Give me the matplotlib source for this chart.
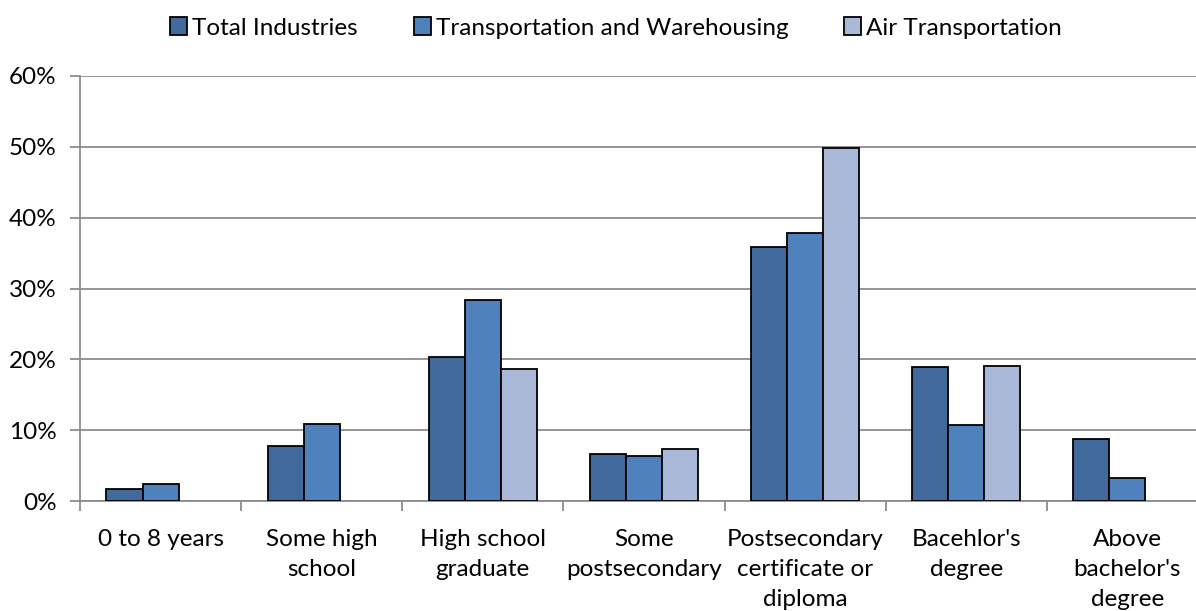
import numpy as np
import matplotlib.pyplot as plt
from matplotlib.patches import Patch
from matplotlib.ticker import FuncFormatter, MultipleLocator

categories = [
    "0 to 8 years",
    "Some high\nschool",
    "High school\ngraduate",
    "Some\npostsecondary",
    "Postsecondary\ncertificate or\ndiploma",
    "Bacehlor's\ndegree",
    "Above\nbachelor's\ndegree",
]
series_names = ["Total Industries", "Transportation and Warehousing", "Air Transportation"]
total_ind = [1.7, 7.8, 20.4, 6.7, 35.8, 18.9, 8.7]
transport = [2.4, 10.9, 28.4, 6.4, 37.8, 10.7, 3.2]
air = [np.nan, np.nan, 18.7, 7.4, 49.9, 19.1, np.nan]
colors = ["#41699C", "#4F81BD", "#AAB9D7"]

plt.rcParams["font.family"] = ["Lato", "DejaVu Sans"]
fs = 17.5

fig = plt.figure(figsize=(11.96, 6.11), dpi=100)
ax = fig.add_axes([80 / 1196, 110 / 611, 1128 / 1196, 425 / 611])

x = np.arange(len(categories))
w = 0.224
for i, (vals, c) in enumerate(zip([total_ind, transport, air], colors)):
    ax.bar(x + (i - 1) * w, vals, width=w, color=c, edgecolor="black",
           linewidth=1.3, zorder=3)

ax.set_xlim(-0.5, len(categories) - 0.5)
ax.set_ylim(0, 60)
ax.yaxis.set_major_locator(MultipleLocator(10))
ax.yaxis.set_major_formatter(FuncFormatter(lambda v, p: f"{v:.0f}%"))
ax.grid(axis="y", color="#8c8c8c", linewidth=1.3, zorder=0)

ax.set_xticks(x)
ax.set_xticklabels(categories, fontsize=fs, linespacing=1.55)
ax.set_xticks(np.arange(len(categories) + 1) - 0.5, minor=True)
ax.tick_params(axis="x", which="major", length=0, pad=20)
ax.tick_params(axis="x", which="minor", length=7, color="#8c8c8c", width=1.3)
ax.tick_params(axis="y", length=7, color="#8c8c8c", width=1.3, labelsize=fs, pad=10)

for s in ["top", "right"]:
    ax.spines[s].set_visible(False)
for s in ["left", "bottom"]:
    ax.spines[s].set_color("#8c8c8c")
    ax.spines[s].set_linewidth(1.3)

handles = [Patch(facecolor=c, edgecolor="black", linewidth=1.3) for c in colors]
fig.legend(handles, series_names, loc="center", bbox_to_anchor=(616 / 1196, 1 - 28 / 611),
           ncol=3, frameon=False, fontsize=fs, handlelength=0.7, handleheight=0.7,
           handletextpad=0.2, columnspacing=2.3)

fig.savefig("out.png", dpi=100)
